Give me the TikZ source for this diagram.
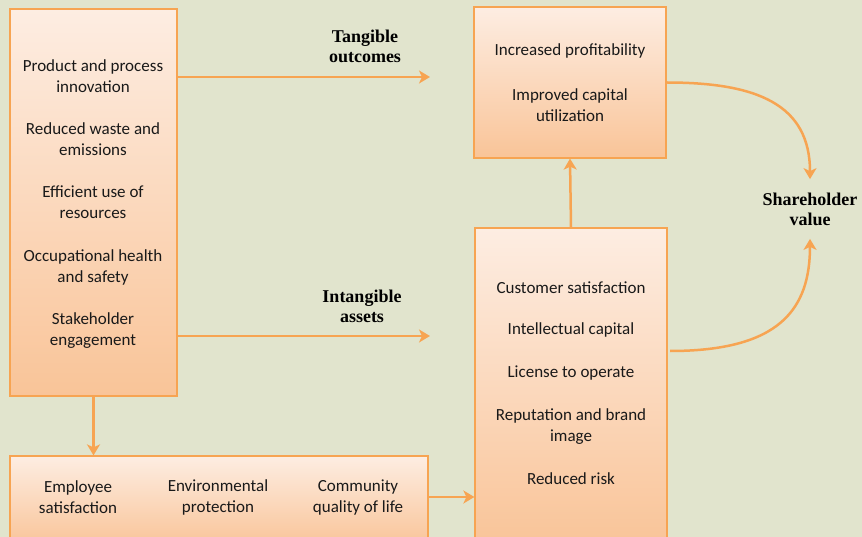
\documentclass[tikz,border=0pt]{standalone}
\usepackage{fontspec}
\newfontfamily\calfont{Carlito}
\newfontfamily\labfont{Liberation Serif}
\usepackage{tikz}
\usetikzlibrary{arrows.meta}
\definecolor{bgcol}{RGB}{225,228,205}
\definecolor{peachtop}{RGB}{253,237,226}
\definecolor{peachbot}{RGB}{249,196,152}
\definecolor{arrcol}{RGB}{247,164,82}
\tikzset{
  box/.style={draw=arrcol, line width=1.2pt, top color=peachtop, bottom color=peachbot, inner sep=0pt},
  item/.style={font=\calfont\fontsize{17}{21}\selectfont, align=center, text=black!90},
  lbl/.style={font=\labfont\bfseries\fontsize{18}{20}\selectfont, align=center},
  link/.style={draw=arrcol, line width=2.5pt, -{Stealth[length=11pt,width=13pt,inset=3pt]}}
}

\begin{document}
\begin{tikzpicture}[x=1pt,y=-1pt]
\clip (0,0) rectangle (862,537);
\fill[bgcol] (0,0) rectangle (862,537);

% boxes
\node[box, minimum width=167pt, minimum height=387pt] (drivers) at (93.5,202.5) {};
\node[box, minimum width=192pt, minimum height=151pt] (tangbox) at (570,82.5) {};
\node[box, minimum width=192pt, minimum height=318pt] (intbox) at (571,387) {};
\node[box, minimum width=418pt, minimum height=90pt] (social) at (219,501) {};

% left column
\node[item] (innov) at (93,76.5) {Product and process\\innovation};
\node[item] (waste) at (93,139.5) {Reduced waste and\\emissions};
\node[item] (effic) at (93,202.5) {Efficient use of\\resources};
\node[item] (health) at (93,267) {Occupational health\\and safety};
\node[item] (stake) at (93,330.5) {Stakeholder\\engagement};

\node[item] (profit) at (570,51) {Increased profitability};
\node[item] (capital) at (570,105.5) {Improved capital\\utilization};

\node[item] (custom) at (571,288) {Customer satisfaction};
\node[item] (intell) at (571,330) {Intellectual capital};
\node[item] (licen) at (571,373) {License to operate};
\node[item] (reput) at (571,426.5) {Reputation and brand\\image};
\node[item] (risk) at (571,479) {Reduced risk};

\node[item] (employ) at (78,497.5) {Employee\\satisfaction};
\node[item] (envir) at (218,497.5) {Environmental\\protection};
\node[item] (commun) at (358,497.5) {Community\\quality of life};

% labels
\node[lbl] (tang) at (365,46) {Tangible\\outcomes};
\node[lbl] (intang) at (362,306) {Intangible\\assets};
\node[lbl] (share) at (810,209) {Shareholder\\value};

% arrows
\coordinate (tangend) at (430,77);
\coordinate (intend) at (430,336);
\coordinate (socmid) at (450,497);
\coordinate (intout) at (670,351);
\draw[link] (drivers.east |- tangend) -- (tangend);
\draw[link] (drivers.east |- intend) -- (intend);
\draw[link] (drivers.south) -- (drivers.south |- social.north);
\draw[link] (social.east |- socmid) -- (intbox.west |- socmid);
\draw[link] (intbox.north) -- (tangbox.south);
\draw[link] (tangbox.east) .. controls +(90,0) and +(0,-75) .. ([yshift=10pt]share.north);
\draw[link] (intout) .. controls +(110,0) and +(0,70) .. ([yshift=-10pt]share.south);

\end{tikzpicture}
\end{document}
